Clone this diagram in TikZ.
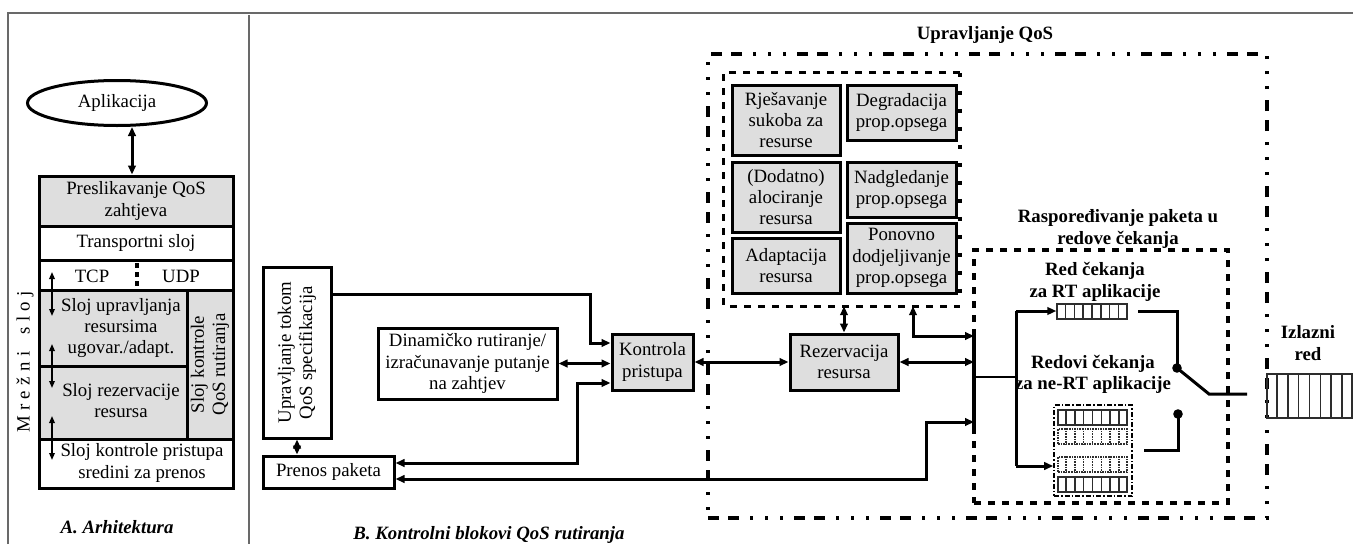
\documentclass[tikz,border=0pt]{standalone}
\usepackage{fontspec}
\setmainfont{Liberation Serif}
\usetikzlibrary{arrows.meta,shapes.geometric,calc}
\definecolor{boxgray}{RGB}{222,222,222}
\definecolor{framegray}{RGB}{105,105,105}
\definecolor{qline}{RGB}{45,45,45}
\newcommand\mrsp{\hspace{5.5pt}}
\newcommand\queuecells[2]{\foreach \i in {1,...,7}{\draw[#2] ($(#1.north west)!{\i/8}!(#1.north east)$) -- ($(#1.south west)!{\i/8}!(#1.south east)$);}}
\begin{document}
\begin{tikzpicture}[x=1pt,y=-1pt,
  font=\fontsize{18.8pt}{21.3pt}\selectfont,
  >={Triangle[length=9pt,width=7.5pt]},
  bx/.style={draw, line width=3pt, inner sep=0pt, align=center},
  gbx/.style={bx, fill=boxgray},
  txt/.style={inner sep=0pt, align=center},
  bt/.style={inner sep=0pt, align=center, font=\fontsize{18.8pt}{21.3pt}\selectfont\bfseries},
  bit/.style={inner sep=0pt, align=center, font=\fontsize{18.8pt}{21.3pt}\selectfont\bfseries\itshape},
  conn/.style={line width=3pt},
  thinconn/.style={line width=2.3pt},
  sarrow/.style={line width=1.6pt, {Triangle[length=7pt,width=5.5pt]}-{Triangle[length=7pt,width=5.5pt]}},
  qsolid/.style={draw=qline, line width=1.3pt, inner sep=0pt},
  qdot/.style={draw=qline, line width=1.6pt, densely dotted, inner sep=0pt},
  qdash/.style={line width=3.2pt, dash pattern=on 7pt off 7pt},
  sqdot/.style={line width=3.8pt, dash pattern=on 4pt off 14pt},
  ofr/.style={draw, line width=3.2pt, inner sep=0pt, dash pattern=on 11pt off 9pt on 11pt off 11pt on 3pt off 12pt on 3pt off 12pt on 3pt off 11pt},
]
\useasboundingbox (0,0) rectangle (1353,544);

% ---------- outer frame ----------
\draw[framegray, line width=1.6pt] (8,544) -- (8,13) -- (1353,13);
\draw[framegray, line width=1.6pt] (249,15) -- (249,544);

% ---------- A. Arhitektura ----------
\node[bx, ellipse, minimum width=179pt, minimum height=45pt] (app) at (117,103) {Aplikacija};
\node[gbx, minimum width=194pt, minimum height=50pt] (pres) at (136,201) {Preslikavanje QoS\\zahtjeva};
\node[bx, minimum width=194pt, minimum height=34pt] (trans) at (136,243) {Transportni sloj};
\node[bx, minimum width=194pt, minimum height=30pt] (tcprow) at (136,275) {};
\node[txt] (tcp) at (92,276) {TCP};
\node[txt] (udp) at (181,276) {UDP};
\draw[line width=3.2pt, dash pattern=on 5pt off 4pt] (137,263) -- (137,288);
\node[gbx, minimum width=148pt, minimum height=76pt] (uprl) at (113,328) {};
\node[txt] (uprlt) at (121,328) {Sloj upravljanja\\resursima\\ugovar./adapt.};
\node[gbx, minimum width=148pt, minimum height=73pt] (rezl) at (113,402.5) {};
\node[txt] (rezlt) at (121,400.5) {Sloj rezervacije\\resursa};
\node[gbx, minimum width=46pt, minimum height=149pt] (qosr) at (210,364.5) {};
\node[txt, rotate=90] (qosrt) at (qosr.center) {Sloj kontrole\\QoS rutiranja};
\node[bx, minimum width=194pt, minimum height=49pt] (kpr) at (136,463.5) {};
\node[txt] (kprt) at (142,463) {Sloj kontrole pristupa\\sredini za prenos};
\draw[sarrow] (52,272) -- (52,316);
\draw[sarrow] (52,344) -- (52,388);
\draw[sarrow] (52,416) -- (52,460);
\node[txt, rotate=90] (mrez) at (25,362) {M\mrsp r\mrsp e\mrsp ž\mrsp n\mrsp i\mrsp\mrsp\mrsp s\mrsp l\mrsp o\mrsp j};
\draw[conn, <->] ([xshift=15pt]app.south) -- ([xshift=15pt]app.south |- pres.north);
\node[bit] (capA) at (117,527) {A. Arhitektura};

% ---------- B. left blocks ----------
\node[bx, minimum width=68pt, minimum height=171pt] (upr) at (297,352.5) {};
\node[txt, rotate=90] (uprt) at (upr.center) {Upravljanje tokom\\QoS specifikacija};
\node[bx, minimum width=131pt, minimum height=32pt] (pren) at (328.5,472) {Prenos paketa};
\node[bx, minimum width=179pt, minimum height=71pt] (din) at (467.5,363.5) {Dinamičko rutiranje/\\izračunavanje putanje\\na zahtjev};
\node[gbx, minimum width=81pt, minimum height=56pt] (kon) at (652.5,362) {Kontrola\\pristupa};
\node[gbx, minimum width=108pt, minimum height=56pt] (rzv) at (844,362) {Rezervacija\\resursa};
\node[bit] (capB) at (489,535) {B. Kontrolni blokovi QoS rutiranja};

% ---------- QoS management boxes ----------
\node[gbx, minimum width=108pt, minimum height=70pt] (rjes) at (786,120) {Rješavanje\\sukoba za\\resurse};
\node[gbx, minimum width=109pt, minimum height=55pt] (degr) at (901.5,112.5) {Degradacija\\prop.opsega};
\node[gbx, minimum width=108pt, minimum height=70pt] (dod) at (786,197) {(Dodatno)\\alociranje\\resursa};
\node[gbx, minimum width=109pt, minimum height=55pt] (nadg) at (901.5,189.5) {Nadgledanje\\prop.opsega};
\node[gbx, minimum width=108pt, minimum height=55pt] (adap) at (786,265.5) {Adaptacija\\resursa};
\node[gbx, minimum width=109pt, minimum height=70pt] (ponv) at (901.5,258) {Ponovno\\dodjeljivanje\\prop.opsega};

% inner dashed box
\node[inner sep=0pt, minimum width=236pt, minimum height=233pt] (qm) at (842,189.5) {};
\draw[qdash] (qm.north east) -- (qm.north west) -- (qm.south west) -- (qm.south east);
\draw[sqdot] (qm.north east) -- (qm.south east);

% outer QoS frame
\node[ofr, minimum width=559pt, minimum height=464pt] (qos) at (987.5,286) {};
\node[bt] (uqos) at (985,35) {Upravljanje QoS};

% scheduling box
\node[draw, qdash, inner sep=0pt, minimum width=254pt, minimum height=253pt] (sch) at (1101,376.5) {};
\node[bt] (rasp) at (1118,229) {Raspoređivanje paketa u\\redove čekanja};

% ---------- connectors ----------
\coordinate (c1) at (590,294);
\coordinate (k1) at ([yshift=19pt]kon.west);
\coordinate (k3) at ([yshift=-21pt]kon.west);
\coordinate (c3) at (577,463);
\coordinate (c4) at (926,479);
\coordinate (b4) at (974,422);
\coordinate (c7) at (913,336);
\coordinate (b7) at (974,336);
\coordinate (busT) at (974,330);
\coordinate (busB) at (974,427);

\draw[conn, ->] (upr.east |- c1) -- (c1) |- (k1);
\draw[conn, <->] (din.east) -- (din.east -| kon.west);
\draw[conn, <->] (k3) -| (c3) -- (pren.east |- c3);
\draw[conn, <->] (pren.east |- c4) -- (c4) |- (b4);
\draw[conn, <->] (kon.east) -- (rzv.west);
\draw[conn, <->] (rzv.north) -- (rzv.north |- qm.south);
\draw[conn, <->] (c7 |- qm.south) -- (c7) -- (b7);
\draw[conn, <->] (rzv.east) -- (rzv.east -| busT);
\draw[conn, <->] (upr.south) -- (upr.south |- pren.north);
\draw[line width=4pt] (busT) -- (busB);

% ---------- queues ----------
\node[qsolid, minimum width=70pt, minimum height=15pt] (rtq) at (1092,311.5) {};
\queuecells{rtq}{qline, line width=1.3pt}
\node[bt] (rtl) at (1095,282) {Red čekanja\\za RT aplikacije};

\node[draw, line width=1.6pt, inner sep=0pt, minimum width=78pt, minimum height=91pt, dash pattern=on 5pt off 2pt on 1.5pt off 2pt] (nrt) at (1093,450.5) {};
\node[qsolid, minimum width=69pt, minimum height=15pt] (nq1) at (1092.5,417.5) {};
\queuecells{nq1}{qline, line width=1.3pt}
\node[qdot, minimum width=69pt, minimum height=15pt] (nq2) at (1092.5,436.5) {};
\queuecells{nq2}{qline, line width=1.6pt, densely dotted}
\node[qdot, minimum width=69pt, minimum height=15pt] (nq3) at (1092.5,464.5) {};
\queuecells{nq3}{qline, line width=1.6pt, densely dotted}
\node[qsolid, minimum width=69pt, minimum height=15pt] (nq4) at (1092.5,484.5) {};
\queuecells{nq4}{qline, line width=1.3pt}
\node[bt] (nrtl) at (1093,374.5) {Redovi čekanja\\za ne-RT aplikacije};

\node[qsolid, minimum width=85pt, minimum height=44pt] (outq) at (1309.5,396) {};
\queuecells{outq}{qline, line width=1.3pt}
\node[bt] (izl) at (1308,343) {Izlazni\\red};

% distribution
\coordinate (dm) at (1016,377);
\coordinate (dT) at (1016,311);
\coordinate (dB) at (1016,466);
\draw[thinconn] (busT |- dm) -- (dm);
\draw[conn] (dT) -- (dB);
\draw[conn, ->] (dT) -- (dT -| rtq.west);
\draw[conn, ->] (dB) -- (dB -| nrt.west);

% switch
\coordinate (s0) at (1138,311);
\coordinate (d1) at (1177,368);
\coordinate (s2) at (1209,394);
\coordinate (s3) at (1247,394);
\coordinate (d2) at (1178,414);
\coordinate (s5) at (1144,450);
\draw[conn] (s0) -| (d1);
\draw[conn] (d1) -- (s2) -- (s3);
\draw[conn] (d2) |- (s5);
\fill (d1) circle (4.8pt);
\fill (d2) circle (4.8pt);
\end{tikzpicture}
\end{document}
